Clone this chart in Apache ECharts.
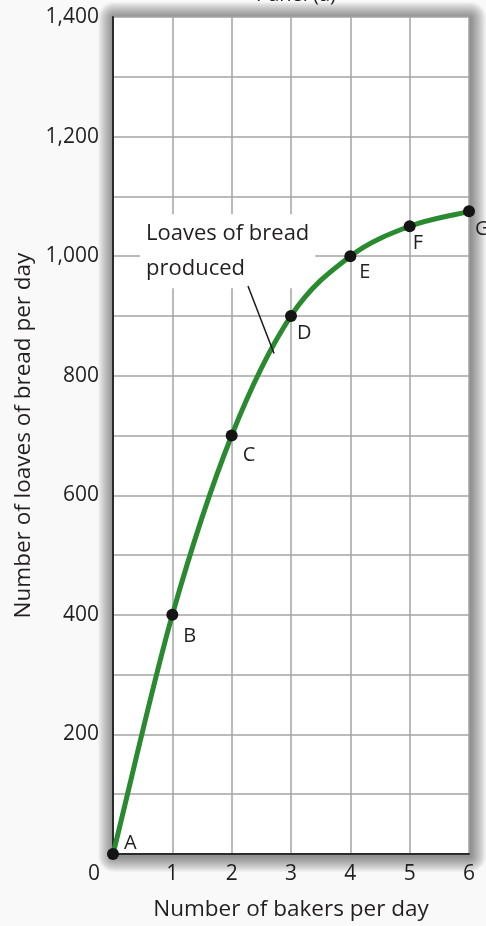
<!DOCTYPE html>
<html>
<head>
<meta charset="utf-8">
<title>Panel (a)</title>
<script src="https://cdn.jsdelivr.net/npm/echarts@6/dist/echarts.min.js"></script>
<style>
  html, body { margin: 0; padding: 0; background: #f9f9f9; }
  #chart { width: 486px; height: 926px; }
</style>
</head>
<body>
<div id="chart"></div>
<script>
// Production function: bakers employed vs loaves produced
const bakers = [0, 1, 2, 3, 4, 5, 6];
const loaves = [0, 400, 700, 900, 1000, 1050, 1075];
const pointNames = ['A', 'B', 'C', 'D', 'E', 'F', 'G'];
const yLabelValues = [200, 400, 600, 800, 1000, 1200, 1400];
const xLabelValues = [0, 1, 2, 3, 4, 5, 6];

const FONT = 'Open Sans';
const TEXT = '#231f20';

// Plot rectangle (pixels) shared by the grid and its drop shadow
const PLOT = { left: 113, top: 17, width: 356, height: 838 };
const W = 486, H = 926;

// Where each point letter sits relative to its dot
const letterOffsets = {
  A: [0, -11], B: [0, 21], C: [0, 20], D: [-5, 17],
  E: [-2, 16], F: [-8, 17], G: [-5, 18]
};

const pointData = bakers.map((b, i) => ({
  value: [b, loaves[i]],
  name: pointNames[i],
  label: { offset: letterOffsets[pointNames[i]] }
}));

// Soft shadow around the plot panel, built from stacked translucent rects
const shadowRects = [];
for (let k = 16; k >= 1; k--) {
  shadowRects.push({
    type: 'rect',
    silent: true,
    z: -20,
    shape: {
      x: PLOT.left - k + 1, y: PLOT.top - k + 1,
      width: PLOT.width + 2 * k, height: PLOT.height + 2 * k,
      r: k
    },
    style: { fill: 'rgba(0,0,0,0.032)' }
  });
}
shadowRects.push({
  type: 'rect',
  silent: true,
  z: -19,
  shape: { x: PLOT.left, y: PLOT.top, width: PLOT.width, height: PLOT.height },
  style: { fill: '#ffffff' }
});

// Smooth curve through the points: Catmull-Rom segments in pixel space
function renderCurveSegment(params, api) {
  const i = params.dataIndex;
  const n = bakers.length;
  if (i >= n - 1) return null;
  const P = j => {
    if (j < 0) {
      const a = api.coord([bakers[0], loaves[0]]);
      const b = api.coord([bakers[1], loaves[1]]);
      return [2 * a[0] - b[0], 2 * a[1] - b[1]];
    }
    if (j > n - 1) {
      const a = api.coord([bakers[n - 1], loaves[n - 1]]);
      const b = api.coord([bakers[n - 2], loaves[n - 2]]);
      return [2 * a[0] - b[0], 2 * a[1] - b[1]];
    }
    return api.coord([bakers[j], loaves[j]]);
  };
  const p0 = P(i - 1), p1 = P(i), p2 = P(i + 1), p3 = P(i + 2);
  const c1 = [p1[0] + (p2[0] - p0[0]) / 6, p1[1] + (p2[1] - p0[1]) / 6];
  const c2 = [p2[0] - (p3[0] - p1[0]) / 6, p2[1] - (p3[1] - p1[1]) / 6];
  return {
    type: 'bezierCurve',
    shape: {
      x1: p1[0], y1: p1[1],
      cpx1: c1[0], cpy1: c1[1],
      cpx2: c2[0], cpy2: c2[1],
      x2: p2[0], y2: p2[1]
    },
    style: { stroke: '#2a8a30', lineWidth: 5, fill: null, lineCap: 'round' }
  };
}

const chart = echarts.init(document.getElementById('chart'));

chart.setOption({
  backgroundColor: '#f9f9f9',
  animation: false,
  title: {
    text: 'Panel (a)',
    left: 291,
    textAlign: 'center',
    top: -20,
    textStyle: { fontFamily: FONT, fontSize: 20, fontWeight: 'normal', color: TEXT }
  },
  graphic: { elements: shadowRects },
  grid: {
    left: PLOT.left,
    top: PLOT.top,
    right: W - PLOT.left - PLOT.width,
    bottom: H - PLOT.top - PLOT.height,
    show: false
  },
  xAxis: {
    type: 'value',
    min: 0, max: 6, interval: 1,
    name: 'Number of bakers per day',
    nameLocation: 'middle',
    nameGap: 44,
    nameTextStyle: { fontFamily: FONT, fontSize: 22.5, color: TEXT },
    axisLine: { show: true, onZero: false, lineStyle: { color: '#2b2b2b', width: 2 } },
    axisTick: { show: false },
    splitLine: { show: true, lineStyle: { color: '#a3a3a3', width: 1.5 } },
    axisLabel: {
      margin: 10,
      showMinLabel: true, showMaxLabel: true,
      fontFamily: FONT, fontSize: 21, color: TEXT,
      formatter: v => xLabelValues.includes(v) ? (v === 0 ? '{z|0}' : String(v)) : '',
      rich: { z: { fontFamily: FONT, fontSize: 21, color: TEXT, padding: [0, 38, 0, 0] } }
    }
  },
  yAxis: {
    type: 'value',
    min: 0, max: 1400, interval: 100,
    name: 'Number of loaves of bread per day',
    nameLocation: 'middle',
    nameGap: 78,
    nameTextStyle: { fontFamily: FONT, fontSize: 22.5, color: TEXT },
    axisLine: { show: true, onZero: false, lineStyle: { color: '#2b2b2b', width: 2 } },
    axisTick: { show: false },
    splitLine: { show: true, lineStyle: { color: '#a3a3a3', width: 1.5 } },
    axisLabel: {
      margin: 14,
      fontFamily: FONT, fontSize: 21, color: TEXT,
      formatter: v => yLabelValues.includes(v) ? v.toLocaleString('en-US') : ''
    }
  },
  series: [{
    // caption box, drawn under the curve but over the grid lines
    type: 'scatter',
    z: 1,
    silent: true,
    symbol: 'rect',
    symbolSize: 1,
    itemStyle: { color: 'rgba(0,0,0,0)', opacity: 1 },
    data: [[0.455, 1008]],
    label: {
      show: true,
      position: 'inside',
      formatter: 'Loaves of bread\nproduced',
      align: 'left',
      fontFamily: FONT, fontSize: 22, color: TEXT,
      opacity: 1,
      lineHeight: 35,
      backgroundColor: '#ffffff',
      padding: [2, 6, 2, 6]
    }
  }, {
    // the production curve
    type: 'custom',
    z: 2,
    silent: true,
    clip: false,
    renderItem: renderCurveSegment,
    data: bakers.map((b, i) => [b, loaves[i]]),
    markLine: {
      silent: true,
      symbol: 'none',
      label: { show: false },
      lineStyle: { color: '#1a1a1a', width: 1.5, type: 'solid', opacity: 1 },
      data: [[{ coord: [2.275, 950] }, { coord: [2.714, 837] }]]
    }
  }, {
    // labelled points on the curve
    type: 'scatter',
    z: 3,
    silent: true,
    data: pointData,
    symbol: 'circle',
    symbolSize: 12,
    itemStyle: { color: '#141414', opacity: 1 },
    label: {
      show: true,
      position: 'right',
      distance: 5,
      opacity: 1,
      formatter: p => p.name,
      fontFamily: FONT, fontSize: 20, color: TEXT
    }
  }]
});
</script>
</body>
</html>
